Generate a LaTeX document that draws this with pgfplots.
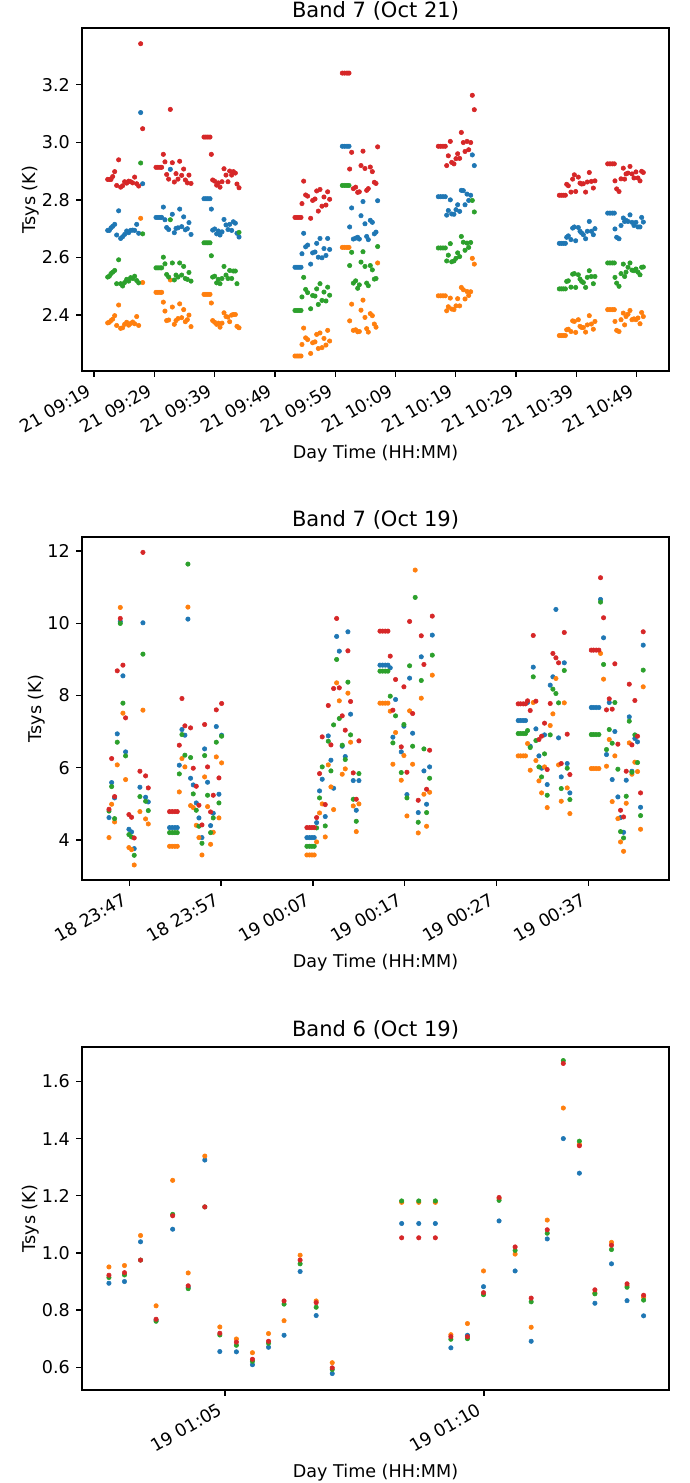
\documentclass[border=0pt]{standalone}
\usepackage{fontspec}
\setmainfont{DejaVu Sans}
\usepackage{pgfplots}
\usepackage{pgfplotstable}
\pgfplotsset{compat=1.18}
\definecolor{tabblue}{HTML}{1F77B4}
\definecolor{taborange}{HTML}{FF7F0E}
\definecolor{tabgreen}{HTML}{2CA02C}
\definecolor{tabred}{HTML}{D62728}

\pgfplotstableread{
t r b g o
2.27 2.871 2.694 2.532 2.373
2.54 2.871 2.694 2.535 2.375
2.82 2.871 2.703 2.544 2.381
3.10 2.881 2.708 2.549 2.386
3.43 2.898 2.715 2.555 2.398
3.76 2.850 2.678 2.509 2.364
4.09 2.939 2.762 2.592 2.435
4.42 2.844 2.666 2.509 2.354
4.75 2.849 2.672 2.501 2.356
5.08 2.863 2.680 2.513 2.368
5.42 2.858 2.692 2.524 2.375
5.75 2.865 2.686 2.518 2.365
6.08 2.863 2.694 2.530 2.371
6.41 2.859 2.695 2.527 2.376
6.74 2.879 2.694 2.535 2.370
7.08 2.856 2.715 2.520 2.395
7.41 2.848 2.684 2.512 2.364
7.74 3.342 3.103 2.928 2.736
8.07 3.047 2.856 2.682 2.513
10.28 2.913 2.739 2.564 2.479
10.61 2.913 2.739 2.564 2.479
10.95 2.913 2.739 2.564 2.479
11.22 2.913 2.739 2.564 2.479
11.50 2.958 2.775 2.601 2.445
11.77 2.932 2.731 2.578 2.414
12.05 2.888 2.704 2.541 2.381
12.38 2.872 2.697 2.532 2.383
12.66 3.114 2.906 2.731 2.522
12.99 2.929 2.750 2.581 2.428
13.32 2.862 2.686 2.522 2.368
13.60 2.891 2.701 2.539 2.381
13.93 2.872 2.703 2.532 2.388
14.21 2.934 2.768 2.581 2.439
14.54 2.885 2.707 2.539 2.391
14.87 2.907 2.741 2.569 2.419
15.15 2.869 2.696 2.527 2.377
15.48 2.859 2.700 2.524 2.384
15.75 2.886 2.721 2.548 2.400
16.09 2.857 2.680 2.518 2.360
18.24 3.018 2.804 2.651 2.472
18.57 3.018 2.804 2.651 2.472
18.90 3.018 2.804 2.651 2.472
19.24 3.018 2.804 2.651 2.472
19.46 2.958 2.768 2.606 2.442
19.68 2.869 2.695 2.532 2.381
20.01 2.865 2.699 2.535 2.375
20.34 2.851 2.682 2.512 2.368
20.62 2.859 2.692 2.524 2.372
20.90 2.844 2.678 2.509 2.358
21.23 2.863 2.689 2.527 2.372
21.56 2.908 2.732 2.569 2.408
21.89 2.886 2.713 2.539 2.395
22.22 2.863 2.697 2.527 2.393
22.50 2.900 2.715 2.555 2.377
22.83 2.886 2.694 2.527 2.400
23.11 2.898 2.724 2.553 2.402
23.44 2.893 2.719 2.553 2.402
23.71 2.855 2.684 2.509 2.361
24.05 2.842 2.671 2.687 2.356
33.33 2.739 2.566 2.416 2.258
33.67 2.739 2.566 2.416 2.258
34.00 2.739 2.566 2.416 2.258
34.33 2.739 2.566 2.416 2.258
34.49 2.787 2.613 2.463 2.298
34.77 2.865 2.684 2.531 2.355
35.10 2.817 2.637 2.489 2.321
35.43 2.813 2.643 2.478 2.315
35.93 2.736 2.577 2.422 2.267
36.26 2.798 2.616 2.468 2.304
36.65 2.803 2.619 2.466 2.307
36.93 2.831 2.649 2.491 2.333
37.20 2.761 2.601 2.437 2.284
37.48 2.836 2.666 2.509 2.338
37.81 2.778 2.599 2.451 2.287
38.14 2.810 2.631 2.480 2.319
38.47 2.782 2.607 2.449 2.296
38.75 2.828 2.666 2.497 2.347
39.08 2.802 2.628 2.469 2.310
41.18 3.240 2.986 2.850 2.635
41.57 3.240 2.986 2.850 2.635
41.96 3.240 2.986 2.850 2.635
42.29 3.240 2.986 2.850 2.635
42.40 2.907 2.706 2.572 2.380
42.73 2.965 2.772 2.618 2.438
43.01 2.839 2.664 2.511 2.347
43.39 2.844 2.667 2.519 2.349
43.73 2.826 2.670 2.493 2.342
44.00 2.828 2.664 2.505 2.343
44.28 2.919 2.745 2.584 2.417
44.61 2.969 2.794 2.620 2.452
44.94 2.909 2.717 2.569 2.392
45.22 2.833 2.673 2.511 2.353
45.49 2.839 2.662 2.502 2.341
45.82 2.914 2.729 2.572 2.405
46.16 2.898 2.722 2.557 2.398
46.49 2.861 2.682 2.525 2.369
46.77 2.857 2.688 2.527 2.358
47.04 2.984 2.797 2.638 2.581
57.10 2.986 2.811 2.633 2.467
57.49 2.986 2.811 2.633 2.467
57.88 2.986 2.811 2.633 2.467
58.26 2.986 2.811 2.633 2.467
58.49 2.919 2.747 2.588 2.415
58.76 2.953 2.763 2.608 2.429
59.09 3.003 2.800 2.648 2.459
59.32 2.930 2.751 2.585 2.421
59.70 2.925 2.750 2.588 2.419
60.03 2.943 2.766 2.597 2.432
60.31 2.960 2.783 2.616 2.457
60.64 2.944 2.760 2.603 2.432
60.92 3.034 2.833 2.673 2.496
61.25 2.999 2.832 2.653 2.488
61.53 2.968 2.783 2.625 2.456
61.86 3.003 2.820 2.650 2.482
62.14 2.974 2.798 2.635 2.468
62.47 2.999 2.816 2.652 2.481
62.74 3.163 2.956 2.798 2.597
63.07 3.113 2.919 2.758 2.577
77.17 2.816 2.649 2.491 2.329
77.50 2.816 2.649 2.491 2.329
77.83 2.816 2.649 2.491 2.329
78.17 2.816 2.649 2.491 2.329
78.39 2.854 2.670 2.517 2.349
78.66 2.849 2.675 2.519 2.351
79.10 2.827 2.662 2.497 2.343
79.38 2.872 2.702 2.542 2.380
79.66 2.887 2.706 2.544 2.378
79.88 2.829 2.658 2.496 2.340
80.32 2.879 2.704 2.540 2.384
80.60 2.858 2.691 2.525 2.361
80.87 2.855 2.685 2.517 2.357
81.15 2.856 2.679 2.513 2.357
81.53 2.827 2.665 2.496 2.341
81.81 2.862 2.691 2.531 2.366
82.14 2.895 2.725 2.554 2.398
82.48 2.864 2.691 2.534 2.369
82.81 2.841 2.679 2.509 2.351
83.08 2.866 2.700 2.534 2.378
85.19 2.925 2.754 2.581 2.419
85.57 2.925 2.754 2.581 2.419
85.96 2.925 2.754 2.581 2.419
86.29 2.925 2.754 2.581 2.419
86.40 2.866 2.699 2.531 2.378
86.68 2.838 2.670 2.511 2.347
87.07 2.829 2.665 2.500 2.343
87.40 2.873 2.711 2.544 2.384
87.78 2.910 2.737 2.577 2.407
88.00 2.872 2.725 2.534 2.366
88.23 2.890 2.729 2.549 2.395
88.56 2.893 2.725 2.566 2.403
88.89 2.916 2.748 2.581 2.416
89.22 2.890 2.722 2.556 2.384
89.55 2.876 2.711 2.554 2.387
89.88 2.897 2.722 2.560 2.384
90.21 2.876 2.706 2.549 2.390
90.55 2.866 2.706 2.540 2.370
90.82 2.899 2.739 2.566 2.409
91.10 2.895 2.723 2.567 2.395
}\tabA

\pgfplotstableread{
t r b g o
-2.21 4.850 4.619 4.800 4.065
-1.92 6.254 5.589 5.478 4.989
-1.60 5.201 5.164 4.591 4.499
-1.31 8.684 6.938 6.707 6.079
-0.98 10.134 10.050 9.996 10.439
-0.69 8.841 8.545 7.788 7.511
-0.40 7.381 6.439 6.328 5.672
-0.04 4.702 4.296 4.148 3.788
0.25 4.628 4.222 4.083 3.732
0.54 4.055 3.760 3.575 3.307
1.16 5.903 5.460 5.201 4.785
1.49 11.964 10.014 9.146 7.594
1.78 5.774 5.183 5.072 4.582
2.07 5.441 5.053 4.813 4.443
4.39 4.785 4.342 4.203 3.824
4.68 4.785 4.342 4.203 3.824
4.97 4.785 4.342 4.203 3.824
5.23 4.785 4.342 4.203 3.824
5.45 6.624 6.070 5.829 5.330
5.74 7.917 7.058 6.919 6.254
6.06 7.160 6.901 6.347 6.023
6.39 nan 10.116 11.640 10.449
6.68 7.104 5.709 6.282 4.951
6.97 5.986 5.524 5.275 4.896
7.30 5.487 5.025 4.822 4.406
7.59 4.961 4.610 4.379 4.065
7.92 4.416 4.065 3.908 3.584
8.21 7.197 6.522 6.337 5.746
8.53 6.023 5.598 5.238 4.924
8.86 4.776 4.397 4.203 3.880
9.15 5.238 4.739 4.610 4.212
9.48 7.603 7.141 6.707 6.300
9.77 5.718 5.266 5.025 4.610
10.06 7.779 6.901 6.873 6.134
19.35 4.342 4.065 3.824 3.584
19.64 4.342 4.065 3.824 3.584
19.90 4.342 4.065 3.824 3.584
20.15 4.342 4.065 3.824 3.584
20.41 4.620 4.480 4.333 3.945
20.73 5.838 5.358 5.164 4.748
21.02 6.855 5.681 6.023 4.998
21.35 4.979 4.647 4.388 4.083
21.68 7.723 6.882 6.735 6.079
21.97 6.633 6.208 5.912 5.469
22.26 8.194 5.432 7.187 4.841
22.59 10.134 9.636 8.998 8.351
22.88 8.213 9.229 7.363 7.853
23.20 7.437 6.596 6.624 5.820
23.53 7.040 6.310 6.227 5.968
23.82 9.238 9.765 8.370 8.065
24.11 7.834 7.483 6.910 6.707
24.40 5.857 5.644 5.127 4.942
24.73 5.127 4.822 4.517 4.231
25.02 6.744 5.644 5.838 4.998
27.31 9.783 8.841 8.675 7.788
27.60 9.783 8.841 8.675 7.788
27.89 9.783 8.841 8.675 7.788
28.18 9.783 8.841 8.675 7.788
28.43 9.091 8.767 7.982 7.566
28.72 7.594 6.846 6.688 6.097
29.01 8.444 7.890 7.437 6.975
29.63 6.578 6.439 5.866 5.654
29.92 8.241 7.150 7.197 6.337
30.25 5.875 5.256 5.164 4.665
30.54 10.051 8.481 8.823 7.575
30.87 7.501 6.956 6.596 6.097
31.15 nan nan 10.717 11.474
31.48 5.099 4.758 4.490 4.194
31.81 9.654 9.072 8.416 7.926
32.10 8.860 5.912 6.522 5.266
32.39 5.404 4.989 4.758 4.379
32.72 6.485 6.023 5.709 5.321
33.01 10.199 9.673 9.118 8.564
42.37 7.769 7.307 6.947 6.328
42.63 7.769 7.307 6.947 6.328
42.92 7.769 7.307 6.947 6.328
43.17 7.769 7.307 6.947 6.328
43.39 7.853 7.806 7.030 6.670
43.68 7.585 6.596 6.559 5.931
44.01 9.663 8.786 8.518 7.806
44.30 7.843 7.077 6.753 6.199
44.63 6.781 6.328 6.023 5.635
44.92 6.873 5.986 5.746 5.303
45.24 7.234 6.910 6.384 6.023
45.53 5.950 5.534 5.238 4.896
45.86 7.779 8.287 6.910 7.169
46.15 9.165 8.518 8.176 7.492
46.48 9.044 10.384 8.056 8.472
46.77 8.906 6.827 7.797 6.079
47.06 6.116 5.746 5.423 5.072
47.39 9.746 8.906 8.693 7.797
47.71 6.929 6.116 5.986 5.441
48.00 5.811 5.303 5.118 4.730
50.33 9.257 7.668 6.919 5.977
50.58 9.257 7.668 6.919 5.977
50.87 9.257 7.668 6.919 5.977
51.16 9.257 7.668 6.919 5.977
51.34 11.262 10.661 10.587 9.165
51.67 10.153 9.599 8.860 8.453
51.99 7.603 6.365 6.504 6.042
52.29 7.908 7.806 7.058 6.781
52.61 7.622 5.672 6.679 5.062
52.90 8.878 7.003 7.806 6.328
53.23 6.652 5.192 5.959 4.591
53.52 4.822 4.619 4.231 3.945
53.85 4.637 4.212 4.055 3.686
54.14 5.903 5.654 5.210 5.016
54.47 8.314 7.409 7.289 6.688
54.76 6.633 5.903 5.875 5.820
55.08 7.862 6.809 6.910 6.153
55.37 6.873 6.716 6.143 5.894
55.70 5.303 4.905 4.674 4.296
55.99 9.765 9.395 8.703 8.241
}\tabB

\pgfplotstableread{
t r b g o
-2.24 0.922 0.894 0.914 0.951
-1.94 0.931 0.900 0.923 0.956
-1.63 0.975 1.039 0.975 1.061
-1.33 0.768 0.765 0.761 0.815
-1.01 1.130 1.083 1.135 1.254
-0.71 0.885 0.880 0.875 0.930
-0.39 1.161 1.325 1.161 1.339
-0.10 0.719 0.655 0.713 0.741
0.22 0.688 0.654 0.677 0.699
0.53 0.628 0.609 0.621 0.651
0.84 0.691 0.670 0.684 0.718
1.14 0.832 0.712 0.821 0.763
1.45 0.975 0.935 0.962 0.992
1.76 0.826 0.781 0.810 0.832
2.07 0.598 0.578 0.592 0.616
3.41 1.053 1.103 1.182 1.177
3.74 1.053 1.103 1.182 1.177
4.06 1.053 1.103 1.182 1.177
4.36 0.707 0.668 0.698 0.714
4.68 0.707 0.712 0.700 0.753
4.99 0.861 0.882 0.854 0.937
5.29 1.194 1.112 1.184 1.190
5.60 1.021 0.937 1.009 0.996
5.91 0.842 0.691 0.829 0.740
6.22 1.081 1.049 1.069 1.115
6.53 1.663 1.400 1.673 1.507
6.84 1.375 1.279 1.391 1.380
7.14 0.871 0.824 0.857 0.860
7.46 1.027 0.962 1.012 1.037
7.76 0.892 0.833 0.880 0.885
8.08 0.852 0.780 0.835 0.845
}\tabC

\pgfplotsset{
  mpl/.style={
    scale only axis, width=422.64bp, height=246.96bp, anchor=south west,
    axis line style={line width=1pt},
    tick align=outside, tick pos=left, major tick length=4.2pt,
    tick style={line width=1pt, black},
    ticklabel style={font=\fontsize{12.7}{15}\selectfont, inner sep=0pt},
    yticklabel style={xshift=-4.4pt},
    xticklabel style={xshift=-5.6pt, yshift=-4.4pt, rotate=30, anchor=north east},
    label style={font=\fontsize{12.7}{15}\selectfont},
    xlabel style={inner sep=8pt},
    ylabel style={inner sep=1.6pt},
    title style={font=\fontsize{15.2}{18}\selectfont, inner sep=0pt, yshift=-0.5pt},
    /pgf/number format/assume math mode=true,
    ylabel={Tsys (K)}, xlabel={Day Time (HH:MM)},
  },
  dots/.style={only marks, mark=*, mark size=1.6pt, mark options={draw=none}},
}

\begin{document}
\begin{tikzpicture}
\useasboundingbox (0,0) rectangle (496.8bp,1067.76bp);

\begin{axis}[mpl, at={(59.04bp,800.64bp)},
  title={Band 7 (Oct 21)},
  xmin=-1.99, xmax=95.36, ymin=2.206, ymax=3.3966,
  xtick={0,10,...,90},
  xticklabels={21 09:19,21 09:29,21 09:39,21 09:49,21 09:59,21 10:09,21 10:19,21 10:29,21 10:39,21 10:49},
  ytick={2.4,2.6,2.8,3.0,3.2},
  yticklabel style={/pgf/number format/fixed,/pgf/number format/fixed zerofill,/pgf/number format/precision=1},
]
\addplot[dots, color=tabblue] table[x=t,y=b] {\tabA};
\addplot[dots, color=taborange] table[x=t,y=o] {\tabA};
\addplot[dots, color=tabgreen] table[x=t,y=g] {\tabA};
\addplot[dots, color=tabred] table[x=t,y=r] {\tabA};
\end{axis}

\begin{axis}[mpl, at={(59.04bp,434.16bp)},
  title={Band 7 (Oct 19)},
  xmin=-5.15, xmax=58.8, ymin=2.891, ymax=12.39,
  xtick={0,10,...,50},
  xticklabels={18 23:47,18 23:57,19 00:07,19 00:17,19 00:27,19 00:37},
  ytick={4,6,8,10,12},
]
\addplot[dots, color=tabblue] table[x=t,y=b] {\tabB};
\addplot[dots, color=taborange] table[x=t,y=o] {\tabB};
\addplot[dots, color=tabgreen] table[x=t,y=g] {\tabB};
\addplot[dots, color=tabred] table[x=t,y=r] {\tabB};
\end{axis}

\begin{axis}[mpl, at={(59.04bp,66.96bp)},
  title={Band 6 (Oct 19)},
  xmin=-2.76, xmax=8.57, ymin=0.5205, ymax=1.7205,
  xtick={0,5},
  xticklabels={19 01:05,19 01:10},
  ytick={0.6,0.8,1.0,1.2,1.4,1.6},
  yticklabel style={/pgf/number format/fixed,/pgf/number format/fixed zerofill,/pgf/number format/precision=1},
]
\addplot[dots, color=tabblue] table[x=t,y=b] {\tabC};
\addplot[dots, color=taborange] table[x=t,y=o] {\tabC};
\addplot[dots, color=tabgreen] table[x=t,y=g] {\tabC};
\addplot[dots, color=tabred] table[x=t,y=r] {\tabC};
\end{axis}
\end{tikzpicture}
\end{document}
